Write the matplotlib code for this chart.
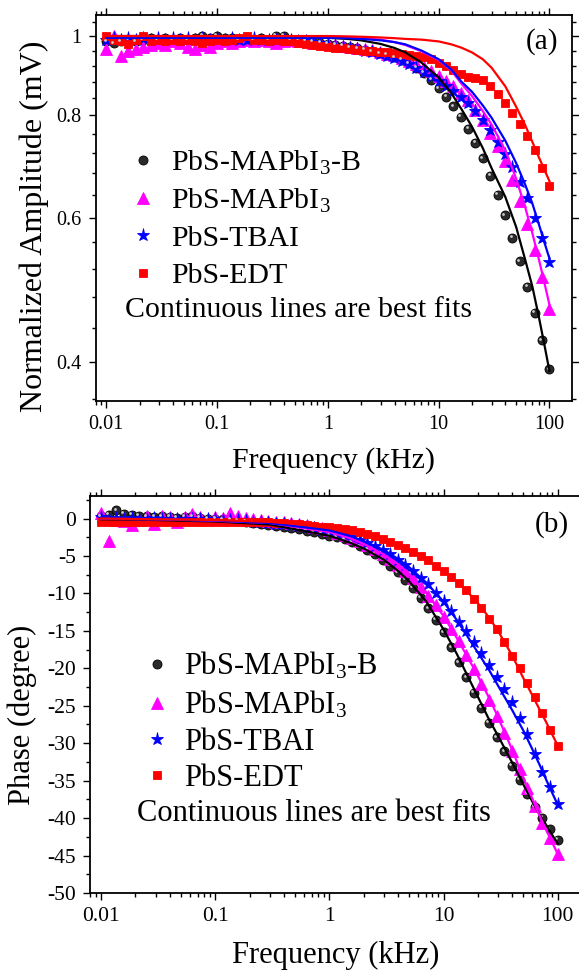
import numpy as np
import matplotlib.pyplot as plt
from matplotlib.ticker import FixedLocator, LogLocator, NullFormatter, MultipleLocator
from matplotlib.transforms import offset_copy

plt.rcParams['font.family'] = ['Liberation Serif', 'DejaVu Serif']
plt.rcParams['mathtext.fontset'] = 'custom'
plt.rcParams['mathtext.rm'] = 'Liberation Serif'
plt.rcParams['mathtext.it'] = 'Liberation Serif:italic'
plt.rcParams['axes.unicode_minus'] = False

# measured frequencies (kHz)
freq = [0.01, 0.0117, 0.0136, 0.0158, 0.0185, 0.0215, 0.0251, 0.0293, 0.0341, 0.0398, 0.0464, 0.0541, 0.0631, 0.0736, 0.0858,
        0.1, 0.117, 0.136, 0.158, 0.185, 0.215, 0.251, 0.293, 0.341, 0.398, 0.464, 0.541, 0.631, 0.736, 0.858,
        1.0, 1.17, 1.36, 1.58, 1.85, 2.15, 2.51, 2.93, 3.41, 3.98, 4.64, 5.41, 6.31, 7.36, 8.58,
        10, 11.7, 13.6, 15.8, 18.5, 21.5, 25.1, 29.3, 34.1, 39.8, 46.4, 54.1, 63.1, 73.6, 85.8, 100]

# (a) normalized amplitude
amp_B = [0.985, 0.98, 0.985, 0.99, 0.985, 0.99, 0.995, 0.99, 0.995, 0.99, 0.995, 0.99, 0.995, 1.0, 0.995,
         1.0, 0.995, 0.995, 0.99, 0.995, 0.99, 0.995, 0.99, 1.0, 1.0, 0.99, 0.99, 0.987, 0.984, 0.981,
         0.978, 0.975, 0.972, 0.969, 0.966, 0.962, 0.958, 0.953, 0.948, 0.942, 0.935, 0.926, 0.915, 0.902, 0.884,
         0.863, 0.843, 0.821, 0.797, 0.770, 0.741, 0.709, 0.675, 0.640, 0.604, 0.567, 0.531, 0.494, 0.459, 0.425, 0.392]
amp_M = [0.963, 1.0, 0.945, 0.96, 0.965, 0.97, 0.975, 0.98, 0.975, 0.985, 0.98, 0.97, 0.965, 0.975, 0.97,
         0.98, 0.985, 0.98, 0.985, 0.99, 0.985, 0.99, 0.985, 0.98, 0.985, 0.99, 0.985, 0.985, 0.982, 0.98,
         0.977, 0.975, 0.973, 0.971, 0.968, 0.965, 0.961, 0.957, 0.952, 0.947, 0.940, 0.933, 0.925, 0.916, 0.907,
         0.895, 0.882, 0.868, 0.853, 0.835, 0.812, 0.789, 0.762, 0.734, 0.703, 0.668, 0.629, 0.589, 0.548, 0.508, 0.464]
amp_T = [0.99, 0.995, 0.99, 0.995, 0.99, 0.995, 0.99, 0.995, 0.99, 0.995, 0.99, 0.995, 0.99, 0.995, 0.99,
         0.995, 0.99, 0.995, 0.99, 0.99, 0.995, 0.99, 0.99, 0.99, 0.988, 0.988, 0.986, 0.985, 0.983, 0.98,
         0.976, 0.973, 0.97, 0.967, 0.964, 0.96, 0.956, 0.951, 0.946, 0.94, 0.933, 0.925, 0.915, 0.905, 0.894,
         0.882, 0.87, 0.856, 0.843, 0.828, 0.81, 0.79, 0.768, 0.742, 0.718, 0.692, 0.663, 0.635, 0.60, 0.567, 0.53]
amp_E = [1.0, 0.99, 0.985, 0.978, 0.99, 1.0, 0.985, 0.99, 0.985, 0.99, 0.985, 0.99, 0.985, 0.98, 0.985,
         0.99, 0.985, 0.99, 0.995, 1.0, 0.99, 0.99, 0.985, 0.99, 0.985, 0.985, 0.98, 0.978, 0.975, 0.972,
         0.97, 0.968, 0.966, 0.964, 0.962, 0.96, 0.958, 0.956, 0.955, 0.953, 0.95, 0.947, 0.945, 0.943, 0.937,
         0.928, 0.918, 0.91, 0.90, 0.892, 0.89, 0.884, 0.868, 0.85, 0.828, 0.805, 0.782, 0.755, 0.725, 0.69, 0.656]

# (b) phase (degree)
ph_B = [0.3, 0.5, 1.1, 0.6, 0.5, 0.4, 0.3, 0.2, 0.3, 0.2, 0.1, 0.2, 0.3, 0.1, 0.0,
        0.0, -0.1, -0.2, -0.3, -0.4, -0.55, -0.7, -0.85, -1.0, -1.15, -1.3, -1.45, -1.65, -1.85, -2.05,
        -2.3, -2.5, -2.8, -3.2, -3.7, -4.2, -4.8, -5.5, -6.3, -7.2, -8.2, -9.3, -10.6, -12.0, -13.5,
        -15.2, -17.2, -19.2, -21.2, -23.3, -25.3, -27.3, -29.2, -31.1, -33.0, -34.9, -36.8, -38.5, -40.0, -41.5, -42.9]
ph_M = [0.8, -3.0, -0.2, -0.3, -0.9, -0.2, 0.3, -0.8, 0.4, 0.2, -0.4, 0.2, 0.6, 0.2, 0.0,
        0.2, 0.1, 0.8, 0.3, 0.1, -0.1, -0.2, -0.3, -0.4, -0.5, -0.6, -0.75, -0.9, -1.1, -1.3,
        -1.6, -1.9, -2.2, -2.6, -3.0, -3.5, -4.1, -4.7, -5.4, -6.2, -7.0, -8.0, -9.1, -10.3, -11.6,
        -13.1, -14.7, -16.4, -18.2, -20.1, -22.1, -24.2, -26.4, -28.7, -31.0, -33.5, -36.0, -38.4, -40.6, -42.7, -44.8]
ph_T = [0.2, 0.0, 0.1, 0.0, 0.1, 0.0, 0.0, 0.1, 0.0, 0.0, 0.0, -0.1, 0.0, -0.1, -0.1,
        -0.1, -0.15, -0.2, -0.25, -0.3, -0.4, -0.5, -0.6, -0.7, -0.8, -0.9, -1.0, -1.15, -1.3, -1.5,
        -1.7, -1.9, -2.2, -2.5, -2.9, -3.3, -3.7, -4.2, -4.8, -5.5, -6.2, -7.0, -7.9, -8.8, -9.9,
        -11.0, -12.4, -13.8, -15.0, -16.5, -18.0, -19.6, -21.2, -22.8, -24.5, -26.6, -28.8, -31.4, -33.8, -35.9, -38.1]
ph_E = [-0.5, -0.4, -0.5, -0.4, -0.5, -0.4, -0.5, -0.4, -0.5, -0.4, -0.4, -0.5, -0.4, -0.4, -0.5,
        -0.4, -0.5, -0.4, -0.4, -0.45, -0.5, -0.5, -0.5, -0.6, -0.65, -0.7, -0.8, -0.9, -1.0, -1.1,
        -1.15, -1.3, -1.45, -1.6, -1.85, -2.1, -2.4, -2.75, -3.1, -3.5, -4.0, -4.5, -5.0, -5.6, -6.3,
        -7.0, -7.8, -8.6, -9.6, -10.8, -12.0, -13.4, -14.8, -16.5, -18.3, -20.0, -22.0, -23.8, -26.0, -28.2, -30.4]

# best-fit curves
fit_f = [0.01, 0.03, 0.1, 0.3, 1, 1.5, 2, 3, 4, 5, 7, 10, 13, 16, 20, 25, 30, 40, 50, 60, 70, 80, 90, 100]
fitA_B = [1.0, 1.0, 0.999, 0.998, 0.995, 0.992, 0.988, 0.978, 0.967, 0.955, 0.928, 0.89, 0.852, 0.815, 0.775, 0.73, 0.69, 0.636, 0.585, 0.535, 0.495, 0.455, 0.42, 0.39]
fitA_M = [1.0, 1.0, 1.0, 0.999, 0.998, 0.996, 0.994, 0.99, 0.983, 0.975, 0.958, 0.935, 0.908, 0.875, 0.845, 0.81, 0.78, 0.725, 0.67, 0.62, 0.575, 0.535, 0.50, 0.47]
fitA_T = [0.995, 0.995, 0.995, 0.995, 0.995, 0.994, 0.992, 0.988, 0.983, 0.977, 0.96, 0.937, 0.91, 0.88, 0.855, 0.823, 0.795, 0.745, 0.70, 0.66, 0.625, 0.59, 0.56, 0.535]
fitA_E = [1.0, 1.0, 1.0, 1.0, 1.0, 0.999, 0.998, 0.996, 0.994, 0.992, 0.99, 0.985, 0.977, 0.968, 0.955, 0.937, 0.915, 0.868, 0.82, 0.78, 0.743, 0.712, 0.687, 0.665]
fitP_B = [-0.1, -0.2, -0.4, -0.8, -2.3, -3.2, -4.0, -5.5, -7.0, -8.4, -11.0, -14.8, -18.0, -20.8, -23.8, -26.8, -29.0, -32.6, -35.5, -37.8, -39.6, -41.0, -42.3, -43.4]
fitP_M = [-0.05, -0.1, -0.3, -0.6, -1.8, -2.6, -3.4, -4.8, -6.1, -7.4, -9.9, -13.0, -15.9, -18.3, -21.0, -23.9, -26.5, -30.9, -34.6, -37.4, -39.8, -41.7, -43.3, -44.8]
fitP_T = [0.0, -0.1, -0.25, -0.6, -1.6, -2.3, -3.0, -4.2, -5.4, -6.5, -8.5, -11.1, -13.5, -15.6, -17.9, -20.2, -22.3, -25.6, -28.3, -30.8, -33.0, -35.0, -36.7, -38.2]
fitP_E = [0.0, -0.1, -0.2, -0.45, -1.1, -1.6, -2.0, -2.8, -3.5, -4.2, -5.5, -7.0, -8.4, -9.7, -11.3, -13.2, -15.0, -18.3, -21.3, -23.6, -25.6, -27.3, -28.9, -30.3]

labels = ['PbS-MAPbI$_3$-B', 'PbS-MAPbI$_3$', 'PbS-TBAI', 'PbS-EDT']
colors = ['black', '#ff00ff', '#0000ff', '#ff0000']
markers = ['o', '^', '*', 's']
msizes = [6.5, 8, 9.5, 6]
xtick_vals = [0.01, 0.1, 1, 10, 100]
xtick_labels = ['0.01', '0.1', '1', '10', '100']

fig = plt.figure(figsize=(5.79, 9.73), dpi=100)
ax1 = fig.add_axes([0.165, 0.5874, 0.823, 0.3972])
ax2 = fig.add_axes([0.1554, 0.0822, 0.848, 0.408])


def style_axis(ax, tsize):
    ax.set_xscale('log')
    ax.set_xlim(0.008, 160)
    ax.set_xticks(xtick_vals)
    ax.set_xticklabels(xtick_labels)
    ax.xaxis.set_minor_locator(LogLocator(base=10, subs=np.arange(2, 10), numticks=20))
    ax.xaxis.set_minor_formatter(NullFormatter())
    ax.tick_params(which='both', direction='out', top=True, right=True, width=1.0,
                   labelsize=tsize, pad=5)
    ax.tick_params(which='major', length=5)
    ax.tick_params(which='minor', length=3)
    for sp in ax.spines.values():
        sp.set_linewidth(1.3)


def draw(ax, ys, fits):
    hs = []
    for y, c, m, ms, lab in zip(ys, colors, markers, msizes, labels):
        face = '#2a2a2a' if c == 'black' else c
        h, = ax.plot(freq, y, linestyle='none', marker=m, ms=ms, mfc=face, mec=c,
                     mew=0.6, label=lab, zorder=2)
        hs.append(h)
        if c == 'black':
            # small light spot so the balls look like spheres
            shine = offset_copy(ax.transData, fig=fig, x=-1.2, y=1.2, units='points')
            ax.plot(freq, y, linestyle='none', marker='o', ms=2.0, mfc='#c8c8c8',
                    mec='none', transform=shine, zorder=2.1)
    for f, c in zip(fits, colors):
        ax.plot(fit_f, f, color=c, lw=1.6, zorder=3)
    return hs


# ---- (a) amplitude
h1 = draw(ax1, [amp_B, amp_M, amp_T, amp_E], [fitA_B, fitA_M, fitA_T, fitA_E])
style_axis(ax1, 14.5)
ax1.set_yscale('log')
ax1.set_ylim(0.358, 1.061)
ax1.yaxis.set_major_locator(FixedLocator([0.4, 0.6, 0.8, 1.0]))
ax1.set_yticklabels(['0.4', '0.6', '0.8', '1'])
ax1.yaxis.set_minor_locator(FixedLocator(np.arange(0.36, 1.05, 0.04)))
ax1.yaxis.set_minor_formatter(NullFormatter())
ax1.set_xlabel('Frequency (kHz)', fontsize=21.5, labelpad=9)
ax1.set_ylabel('Normalized Amplitude (mV)', fontsize=23)
ax1.yaxis.set_label_coords(-0.097, 0.454)
ax1.text(0.936, 0.931, '(a)', transform=ax1.transAxes, fontsize=21, ha='center', va='center')
ax1.legend(handles=h1, loc='upper left', bbox_to_anchor=(0.0687, 0.655), frameon=False,
           fontsize=21.5, handlelength=1.0, handletextpad=0.44, labelspacing=0.34,
           borderpad=0, borderaxespad=0, numpoints=1)
ax1.text(0.061, 0.237, 'Continuous lines are best fits', transform=ax1.transAxes,
         fontsize=21.5, ha='left', va='center')

# ---- (b) phase
h2 = draw(ax2, [ph_B, ph_M, ph_T, ph_E], [fitP_B, fitP_M, fitP_T, fitP_E])
style_axis(ax2, 15.5)
ax2.set_ylim(-50, 3)
ax2.yaxis.set_minor_locator(MultipleLocator(2.5))
ax2.set_yticks(np.arange(-50, 1, 5))
ax2.set_yticklabels(['%d' % v for v in np.arange(-50, 1, 5)])
ax2.set_xlabel('Frequency (kHz)', fontsize=22, labelpad=11)
ax2.set_ylabel('Phase (degree)', fontsize=22)
ax2.yaxis.set_label_coords(-0.108, 0.45)
ax2.text(0.94, 0.929, '(b)', transform=ax2.transAxes, fontsize=21, ha='center', va='center')
ax2.legend(handles=h2, loc='upper left', bbox_to_anchor=(0.105, 0.612), frameon=False,
           fontsize=22, handlelength=1.0, handletextpad=0.40, labelspacing=0.24,
           borderpad=0, borderaxespad=0, numpoints=1)
ax2.text(0.095, 0.200, 'Continuous lines are best fits', transform=ax2.transAxes,
         fontsize=22, ha='left', va='center')

fig.savefig('out.png', dpi=100)
